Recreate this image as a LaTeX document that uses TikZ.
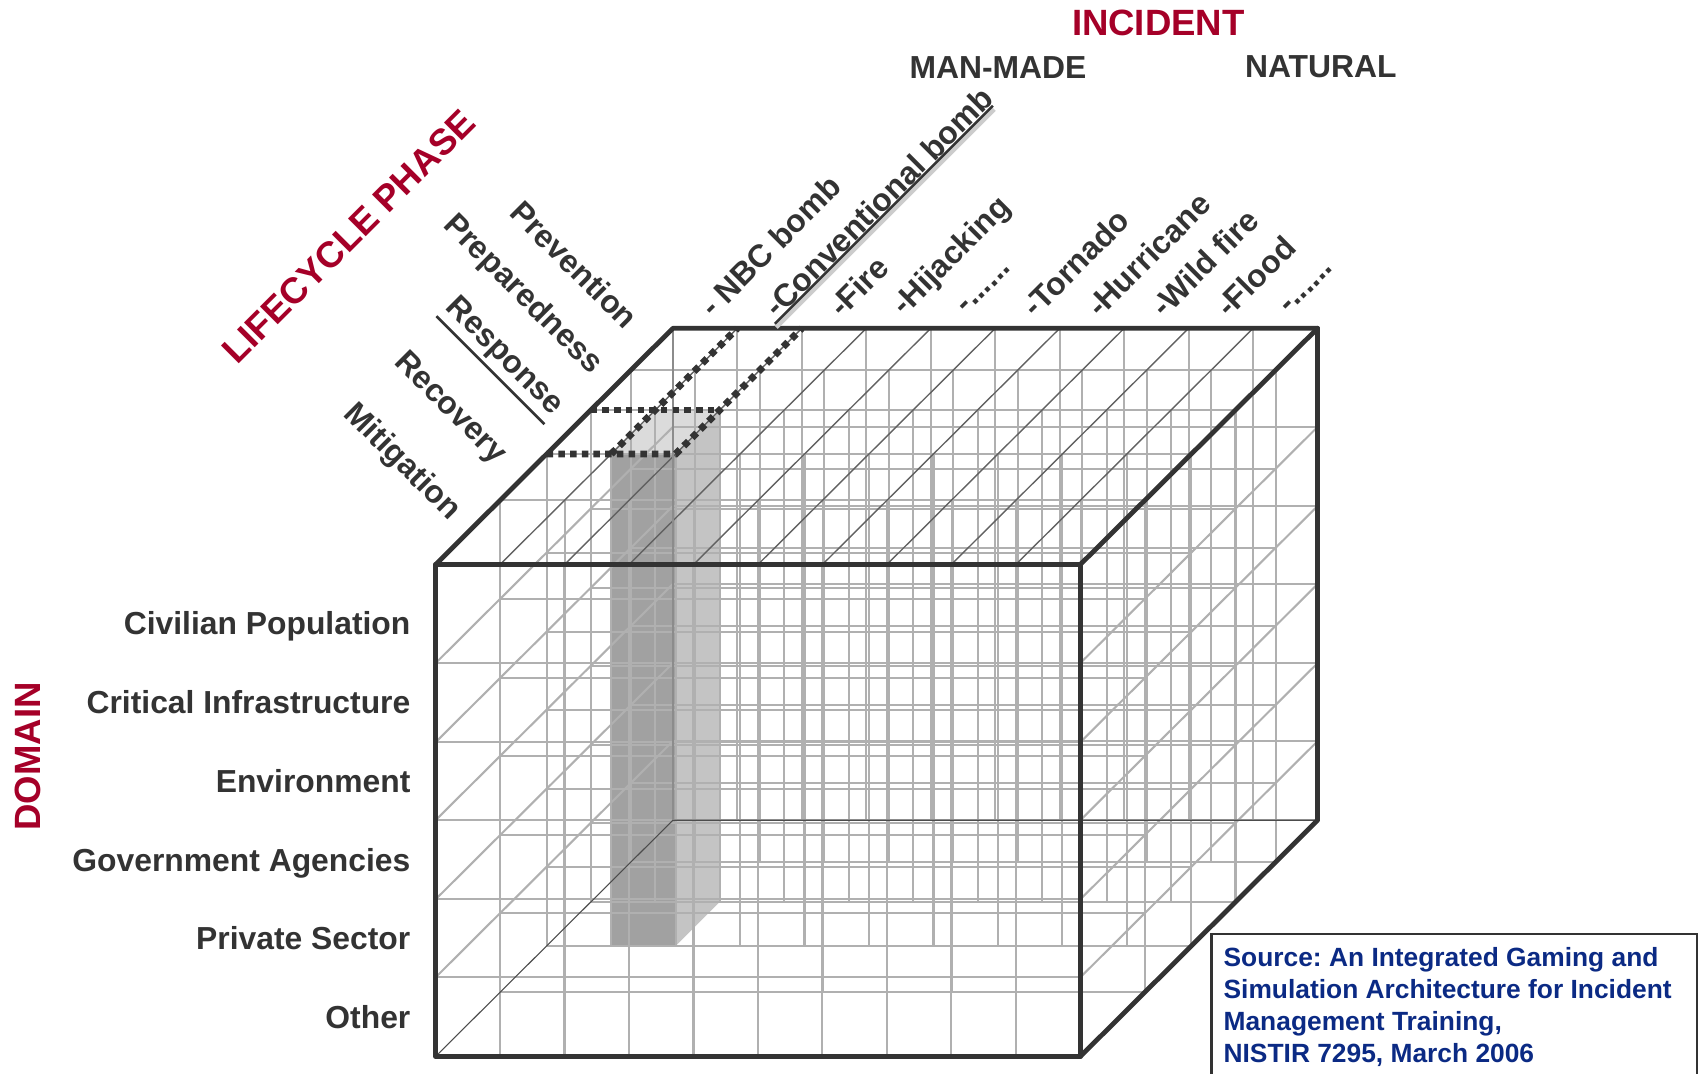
\documentclass[tikz,border=0pt]{standalone}
\usepackage{fontspec}
\setmainfont{Liberation Sans}
\usetikzlibrary{positioning}
\frenchspacing

\definecolor{hdred}{HTML}{A50028}
\definecolor{ink}{HTML}{333333}
\definecolor{wiregray}{HTML}{B0B0B0}
\definecolor{navy}{HTML}{0B2A84}
\newcommand{\hzmore}{-......}

\begin{document}
\begin{tikzpicture}
  [x=0.25mm,y=-0.25mm,
   every node/.style={inner sep=0pt,text=ink,font=\bfseries\fontsize{20.9}{24}\selectfont},
   head/.style={text=hdred,font=\bfseries\fontsize{24}{28}\selectfont},
   wire/.style={draw=wiregray,line width=0.48mm},
   topwire/.style={draw=black!62,line width=0.32mm},
   frame/.style={draw=ink,line width=1.1mm,line join=round,line cap=round},
   hilite/.style={draw=ink,line width=1.6mm,dash pattern=on 1.5mm off 1.2mm},
   phasename/.style={rotate=-45,anchor=east},
   hazard/.style={rotate=45,anchor=west}]
  \useasboundingbox (0,0) rectangle (1568,991);

  % selected cell column: Response x Conventional bomb
  \fill[black!37] (564,419) rectangle (623.5,873);
  \fill[black!23] (623.5,419) -- (664.2,378.4) -- (664.2,832.4) -- (623.5,873) -- cycle;
  \fill[black!14] (564,419) -- (623.5,419) -- (664.2,378.4) -- (604.7,378.4) -- cycle;

  % lattice, layer by layer
  \foreach \f in {0,0.273,0.468,0.654,0.823,1}{
    \foreach \i in {0,...,10}
      \draw[wire] ({402+59.5*\i+219*\f},{521-218*\f}) -- ++(0,454);
    \foreach \r in {521,612,685,757,830,902,975}
      \draw[wire] ({402+219*\f},{\r-218*\f}) -- ++(595,0);
  }
  \foreach \r in {612,685,757,830,902}{
    \draw[wire] (402,\r) -- ++(219,-218);
    \draw[wire] (997,\r) -- ++(219,-218);
  }
  \foreach \i in {1,...,9}
    \draw[topwire] ({402+59.5*\i},521) -- ++(219,-218);
  \draw[black!70,line width=0.25mm] (402,975) -- ++(219,-218) -- ++(595,0);
  \draw[black!45,line width=0.45mm] (621,303) -- (621,757);

  % cube outline
  \draw[frame] (402,521) rectangle (997,975);
  \draw[frame] (402,521) -- (621,303) -- (1216,303) -- (1216,757) -- (997,975);
  \draw[frame] (997,521) -- (1216,303);

  % dotted marks
  \draw[hilite] (504.5,419) -- (623.5,419) -- (740,303);
  \draw[hilite] (545.2,378.4) -- (664.2,378.4);
  \draw[hilite] (564,419) -- (680.5,303);

  % axis titles
  \node[head] (incident) at (1069,21) {INCIDENT};
  \node (manmade) at (921,62) {MAN-MADE};
  \node (natural) at (1219,62) {NATURAL};
  \node[head,rotate=45] (lifecycle) at (322,218) {LIFECYCLE PHASE};
  \node[head,rotate=90] (domain) at (26,698) {DOMAIN};

  % lifecycle phases
  \node[phasename] (prev) at (584,298) {Prevention};
  \node[phasename] (prep) at (551,341) {Preparedness};
  \node[phasename] (resp) at (515,379) {Response};
  \node[phasename] (reco) at (462,424) {Recovery};
  \node[phasename] (miti) at (420,476) {Mitigation};
  \draw[ink,line width=0.6mm] ([shift={(-3,3)}]resp.south west) -- ([shift={(-3,3)}]resp.south east);

  % incidents
  \foreach \txt [count=\i from 0] in {- NBC bomb,-Conventional bomb,-Fire,-Hijacking,\hzmore,-Tornado,-Hurricane,-Wild fire,-Flood,\hzmore}
    \node[hazard] (hz\i) at ({650.75+59.5*\i},287) {\txt};
  \draw[black!20,line width=1.2mm] ([shift={(-2,7)}]hz1.south west) -- ([shift={(-2,7)}]hz1.south east);
  \draw[ink,line width=0.6mm] ([shift={(-3,4)}]hz1.south west) -- ([shift={(-3,4)}]hz1.south east);

  % domains
  \foreach \txt [count=\j from 0] in {Civilian Population,Critical Infrastructure,Environment,Government Agencies,Private Sector,Other}
    \node[anchor=base east] (dom\j) at (379,{585.5+72.8*\j}) {\txt};

  % source
  \draw[ink,line width=0.5mm] (1118,862) rectangle (1566,1010);
  \node[anchor=north west,align=left,text=navy,font=\bfseries\fontsize{17.3}{21}\selectfont] (source) at (1129,874)
    {Source: An Integrated Gaming and\\Simulation Architecture for Incident\\Management Training,\\NISTIR 7295, March 2006};
\end{tikzpicture}
\end{document}
